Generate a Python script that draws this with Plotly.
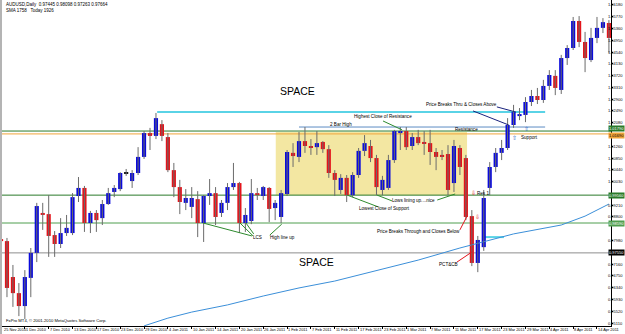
import plotly.graph_objects as go

# ---------------- data (AUDUSD daily) ----------------
opens = [0.9803,0.9796,0.9671,0.9615,0.9570,0.9668,0.9755,0.9894,0.9890,0.9817,
         0.9786,0.9824,0.9824,0.9953,0.9981,0.9859,0.9894,0.9876,0.9925,0.9967,
         0.9977,1.0033,1.0005,1.0033,1.0089,1.0172,1.0162,1.0203,1.0158,1.0043,
         0.9984,0.9929,0.9915,0.9942,0.9859,0.9953,0.9963,0.9894,0.9929,0.9984,
         0.9998,0.9859,0.9866,0.9963,0.9953,0.9981,0.9911,0.9880,0.9960,1.0103,
         1.0089,1.0144,1.0127,1.0123,1.0141,1.0116,1.0033,0.9974,1.0016,0.9956,
         1.0026,1.0110,1.0127,1.0085,0.9974,0.9981,1.0078,1.0172,1.0179,1.0127,
         1.0158,1.0141,1.0137,1.0106,1.0096,1.0099,0.9998,1.0120,1.0085,0.9883,
         0.9720,0.9775,0.9981,1.0054,1.0103,1.0120,1.0200,1.0231,1.0235,1.0280,
         1.0301,1.0287,1.0336,1.0371,1.0322,1.0433,1.0468,1.0562,1.0489,1.0426,
         1.0503,1.0538,1.0555]
highs = [0.9842,0.9807,0.9713,0.9650,0.9695,0.9772,0.9929,0.9929,0.9956,0.9831,
         0.9876,0.9887,0.9963,1.0019,0.9988,0.9901,0.9904,0.9939,0.9981,0.9991,
         1.0036,1.0047,1.0043,1.0123,1.0179,1.0190,1.0242,1.0217,1.0172,1.0068,
         1.0009,0.9977,0.9984,0.9970,0.9956,1.0012,0.9984,0.9939,0.9998,1.0068,
         1.0002,0.9911,1.0012,0.9981,0.9988,0.9984,0.9939,0.9974,1.0113,1.0137,
         1.0176,1.0193,1.0151,1.0179,1.0144,1.0130,1.0043,1.0029,1.0026,1.0036,
         1.0120,1.0165,1.0148,1.0096,1.0023,1.0096,1.0183,1.0193,1.0193,1.0172,
         1.0183,1.0179,1.0183,1.0120,1.0113,1.0130,1.0148,1.0130,1.0096,0.9904,
         0.9814,0.9974,1.0071,1.0120,1.0148,1.0224,1.0270,1.0259,1.0297,1.0322,
         1.0329,1.0357,1.0391,1.0391,1.0444,1.0478,1.0576,1.0579,1.0524,1.0538,
         1.0576,1.0572,1.0565]
lows = [0.9758,0.9601,0.9567,0.9535,0.9525,0.9601,0.9723,0.9835,0.9741,0.9741,
        0.9772,0.9814,0.9817,0.9932,0.9828,0.9824,0.9828,0.9852,0.9922,0.9949,
        0.9970,1.0023,0.9981,1.0026,1.0082,1.0113,1.0151,1.0144,1.0036,0.9949,
        0.9890,0.9904,0.9876,0.9810,0.9793,0.9922,0.9852,0.9880,0.9904,0.9974,
        0.9824,0.9828,0.9855,0.9939,0.9939,0.9862,0.9869,0.9859,0.9953,1.0054,
        1.0071,1.0103,1.0096,1.0096,1.0103,1.0016,0.9953,0.9960,0.9932,0.9949,
        1.0016,1.0092,1.0071,0.9956,0.9956,0.9974,1.0068,1.0113,1.0113,1.0113,
        1.0130,1.0096,1.0061,1.0043,1.0078,0.9956,0.9967,1.0026,0.9869,0.9709,
        0.9688,0.9762,0.9956,1.0036,1.0078,1.0113,1.0190,1.0217,1.0210,1.0266,
        1.0273,1.0277,1.0322,1.0304,1.0308,1.0409,1.0461,1.0471,1.0384,1.0419,
        1.0485,1.0520,1.0451]
closes = [0.9796,0.9633,0.9615,0.9570,0.9671,0.9755,0.9918,0.9887,0.9814,0.9786,
          0.9824,0.9842,0.9949,0.9981,0.9859,0.9894,0.9869,0.9925,0.9963,0.9981,
          1.0033,1.0031,1.0033,1.0089,1.0172,1.0162,1.0224,1.0162,1.0043,0.9984,
          0.9932,0.9946,0.9946,0.9859,0.9953,0.9963,0.9880,0.9929,0.9984,0.9998,
          0.9859,0.9887,0.9963,0.9956,0.9984,0.9908,0.9929,0.9963,1.0106,1.0092,
          1.0144,1.0127,1.0123,1.0137,1.0116,1.0033,1.0009,1.0016,0.9956,1.0026,
          1.0110,1.0137,1.0085,0.9984,1.0009,1.0078,1.0179,1.0179,1.0123,1.0158,
          1.0137,1.0134,1.0106,1.0089,1.0092,0.9974,1.0127,1.0054,0.9880,0.9720,
          0.9800,0.9946,1.0054,1.0103,1.0120,1.0200,1.0245,1.0238,1.0280,1.0301,
          1.0287,1.0336,1.0374,1.0329,1.0433,1.0468,1.0562,1.0489,1.0433,1.0503,
          1.0538,1.0558,1.0503]

# moving average (read at a few bars)
ma_bars = [24, 28, 32, 38, 44, 50, 56, 62, 70, 77, 86, 94, 98, 102]
ma_vals = [0.9501, 0.9528, 0.9549, 0.9574, 0.9605, 0.9633, 0.9657, 0.9688,
           0.9730, 0.9772, 0.9821, 0.9852, 0.9883, 0.9925]

date_ticks = ["25 Nov 2010", "1 Dec 2010", "7 Dec 2010", "13 Dec 2010", "17 Dec 2010",
              "23 Dec 2010", "29 Dec 2010", "4 Jan 2011", "10 Jan 2011", "14 Jan 2011",
              "20 Jan 2011", "26 Jan 2011", "1 Feb 2011", "7 Feb 2011", "11 Feb 2011",
              "17 Feb 2011", "23 Feb 2011", "1 Mar 2011", "7 Mar 2011", "11 Mar 2011",
              "17 Mar 2011", "23 Mar 2011", "29 Mar 2011", "4 Apr 2011", "8 Apr 2011",
              "14 Apr 2011"]
# scale labels (those hidden behind the coloured level tags in the reference are left out)
price_ticks = ["0.95110", "0.95520", "0.95930", "0.96340", "0.96750", "0.97160",
               "0.97980", "0.98800", "0.99210",
               "1.00030", "1.00440", "1.00850", "1.01260", "1.02080",
               "1.02490", "1.02900", "1.03310", "1.03720", "1.04130", "1.04540",
               "1.04950", "1.05360", "1.05770", "1.06180"]

# horizontal levels
res_green = 1.0179
res_orange = 1.0169
two_bar_high = 1.0193
cyan_top = 1.0245
sup_green = 0.9956
low_green = 0.9859
bid_line = 0.9755
cyan_low = 0.9810
box_top, box_bottom = 1.0176, 0.9956

# ---------------- styling ----------------
BLUE = "#0a0adc"
RED = "#e3141b"
WICK = "#6b6b6b"
FONT = "Liberation Sans"

n = len(opens)
idx = list(range(n))
body_base, body_h, body_col = [], [], []
for o, c in zip(opens, closes):
    lo, hi = min(o, c), max(o, c)
    h = max(hi - lo, 0.00035)
    body_base.append(lo)
    body_h.append(h)
    if abs(c - o) < 0.00025:
        body_col.append("#111111")
    elif c > o:
        body_col.append(BLUE)
    else:
        body_col.append(RED)

wx, wy = [], []
for i, (h, l) in enumerate(zip(highs, lows)):
    wx += [i, i, None]
    wy += [l, h, None]

XMIN, XMAX = -0.17, 102.35
YMIN, YMAX = 0.95006, 1.0635

fig = go.Figure()
# yellow box
fig.add_shape(type="rect", x0=46.1, x1=78.2, y0=box_bottom, y1=box_top,
              fillcolor="#f3e7a2", line_width=0, layer="below")

def hline(y, x0, x1, color, width=1):
    fig.add_shape(type="line", x0=x0, x1=x1, y0=y, y1=y,
                  line=dict(color=color, width=width), layer="below")

hline(bid_line, XMIN, XMAX, "#8e8e8e")
hline(low_green, XMIN, XMAX, "#4f9e4f")
hline(sup_green, XMIN, XMAX, "#2a7a2a")
hline(res_orange, XMIN, XMAX, "#f0a43a")
hline(res_green, XMIN, XMAX, "#2a7a2a")
hline(two_bar_high, 50.0, 91.3, "#5b8cc4")
hline(cyan_top, 26.2, 91.3, "#5ad3e6", 2)
hline(cyan_low, 80.7, 84.4, "#5ad3e6", 2)

fig.add_trace(go.Scatter(x=ma_bars, y=ma_vals, mode="lines",
                         line=dict(color="#3b8fd9", width=1), hoverinfo="skip"))
fig.add_trace(go.Scatter(x=wx, y=wy, mode="lines",
                         line=dict(color=WICK, width=1), hoverinfo="skip"))
fig.add_trace(go.Bar(x=idx, y=body_h, base=body_base, width=0.7,
                     marker=dict(color=body_col, line_width=0)))

# connector lines
def seg(x0, y0, x1, y1, color):
    fig.add_shape(type="line", x0=x0, y0=y0, x1=x1, y1=y1,
                  line=dict(color=color, width=1))

NAVY = "#1a237e"
GRN = "#2e8b2e"
seg(83.2, 1.0263, 86.4, 1.0245, NAVY)
seg(79.2, 1.0249, 85.2, 1.0200, NAVY)
seg(64.1, 1.0214, 67.3, 1.0183, GRN)
seg(63.1, 0.9956, 65.6, 0.9936, GRN)
seg(73.2, 0.9939, 76.2, 0.9960, GRN)
seg(58.1, 0.9956, 63.3, 0.9915, GRN)
seg(33.9, 0.9859, 42.1, 0.9814, GRN)
seg(40.1, 0.9859, 42.3, 0.9814, GRN)
seg(41.1, 0.9859, 42.4, 0.9821, GRN)
seg(45.1, 0.9817, 47.1, 0.9855, GRN)
seg(77.0, 0.9835, 78.2, 0.9883, RED)
seg(76.5, 0.9723, 79.0, 0.9758, RED)

# gray left border
fig.add_shape(type="rect", xref="paper", yref="paper", x0=0, x1=0.0032, y0=0, y1=1,
              fillcolor="#b4b4b4", line_width=0)

ann = []
def txt(x, y, s, size=4.6, color="#000000", xanchor="center"):
    ann.append(dict(x=x, y=y, text=s, showarrow=False, xanchor=xanchor, yanchor="middle",
                    font=dict(size=size, color=color, family=FONT)))

txt(49.8, 1.0318, "SPACE", 10.5)
txt(52.9, 0.9723, "SPACE", 10.5)
txt(77.3, 1.0270, "Price Breaks Thru &amp; Closes Above")
txt(64.1, 1.0228, "Highest Close of Resistance")
txt(57.1, 1.0203, "2 Bar High")
txt(78.1, 1.0183, "Resistance")
txt(88.6, 1.0155, "Support")
txt(69.2, 0.9936, "Lows lining up....nice")
txt(64.3, 0.9908, "Lowest Close of Support")
txt(43.1, 0.9810, "LCS")
txt(47.3, 0.9810, "High line up")
txt(70.0, 0.9828, "Price Breaks Through and Closes Below")
txt(75.1, 0.9713, "PCT&amp;CB")
txt(80.9, 0.9963, "Res 1")
txt(79.3, 0.9963, "⇩", 5.5, RED)
txt(79.9, 0.9880, "⇩", 6, RED)
txt(86.2, 1.0155, "⇧", 6, "#3060c0")
txt(88.1, 1.0186, "⇧", 6, "#3060c0")

# price scale labels on the right (drawn as text so they fit the 14px strip)
for t in price_ticks:
    ann.append(dict(x=1.0, xref="paper", y=float(t), yref="y", text=t, showarrow=False,
                    xanchor="right", yanchor="middle",
                    font=dict(size=4.0, color="#000000", family=FONT)))

# date labels along the bottom strip, starting at their tick like MT4
for k, lab in enumerate(date_ticks):
    ann.append(dict(x=max(4 * k - 0.15, 0.1), xref="x", y=0, yref="paper", text=lab,
                    showarrow=False, xanchor="left", yanchor="bottom",
                    font=dict(size=3.9, color="#000000", family=FONT)))

# coloured level tags on the price scale
for val, lab, bg, fg in [(1.0187, "1.01790", "#2a7a2a", "#ffffff"),
                         (1.0163, "1.01690", "#f0a43a", "#000000"),
                         (sup_green, "0.99560", "#2a7a2a", "#ffffff"),
                         (low_green, "0.98590", "#4f9e4f", "#ffffff"),
                         (bid_line, "0.97550", "#000000", "#ffffff")]:
    ann.append(dict(x=1.0, xref="paper", y=val, yref="y", text=lab, showarrow=False,
                    xanchor="right", yanchor="middle", bgcolor=bg, borderpad=0,
                    font=dict(size=4.0, color=fg, family=FONT)))

# header / footer
ann.append(dict(x=0.006, y=1.0, xref="paper", yref="paper", xanchor="left", yanchor="top",
                showarrow=False, align="left",
                text="AUDUSD,Daily  0.97445 0.98098 0.97263 0.97664<br>SMA 1758   Today 1926",
                font=dict(size=4.5, color="#000000", family=FONT)))
ann.append(dict(x=0.006, y=8 / 334 + 0.003, xref="paper", yref="paper", xanchor="left",
                yanchor="bottom", showarrow=False,
                text="FxPro MT4, © 2001-2010 MetaQuotes Software Corp.",
                font=dict(size=4.2, color="#000000", family=FONT)))

fig.update_layout(
    width=625, height=334, margin=dict(l=0, r=0, t=0, b=0, autoexpand=False),
    paper_bgcolor="white", plot_bgcolor="white", showlegend=False,
    annotations=ann, barmode="overlay",
    xaxis=dict(domain=[0, 611 / 625], range=[XMIN, XMAX], showgrid=False, zeroline=False,
               automargin=False, tickmode="array",
               tickvals=[4 * k for k in range(len(date_ticks))], showticklabels=False,
               ticks="outside", ticklen=2, tickcolor="#000",
               showline=True, linecolor="#000", linewidth=1),
    yaxis=dict(domain=[8 / 334, 1], range=[YMIN, YMAX], side="right", showgrid=False,
               zeroline=False, automargin=False, tickmode="array",
               tickvals=[float(t) for t in price_ticks], showticklabels=False,
               ticks="outside", ticklen=1, tickcolor="#000",
               showline=True, linecolor="#000", linewidth=1),
)

fig.write_html("out.html")
